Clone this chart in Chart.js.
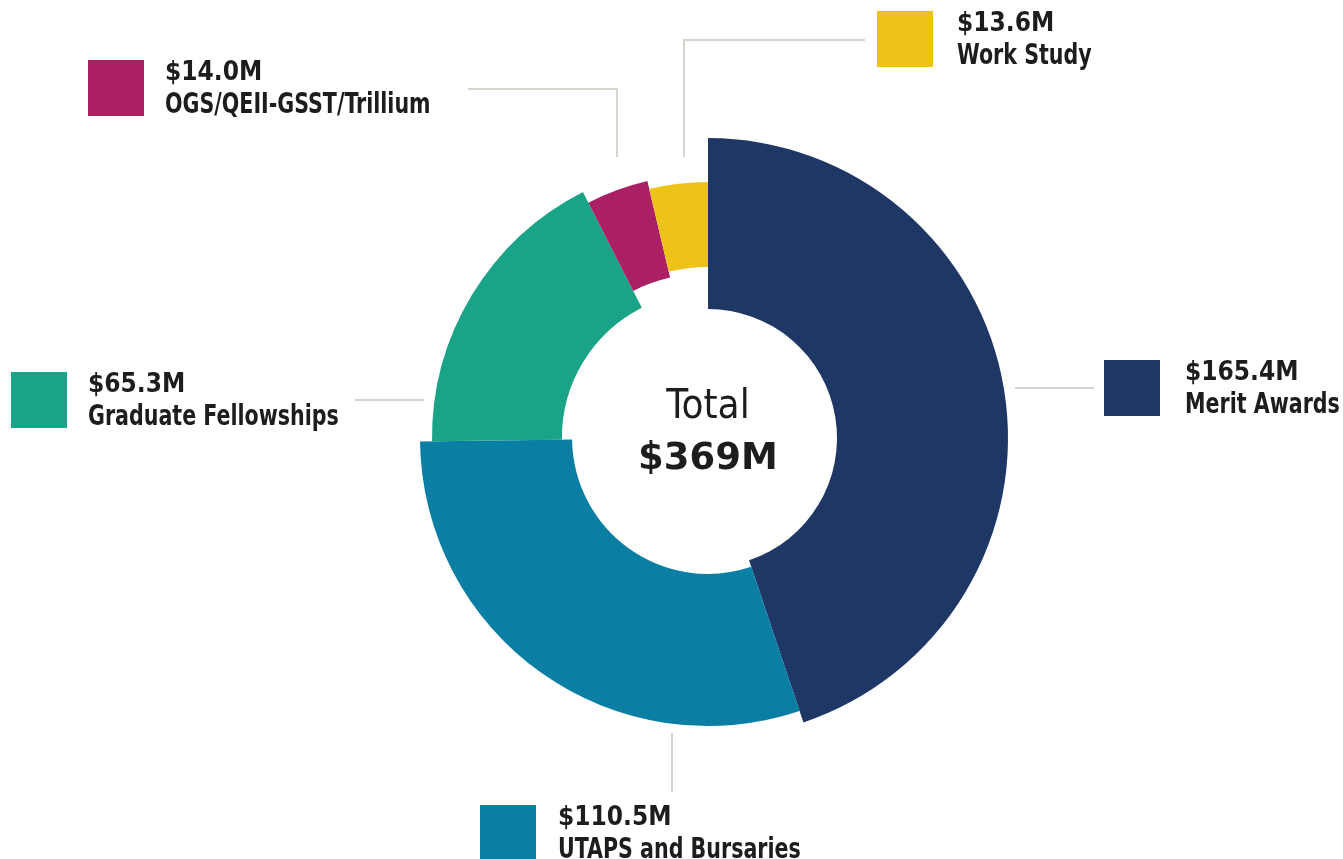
<!DOCTYPE html>
<html lang="en">
<head>
  <meta charset="UTF-8">
  <title>Student Aid Total</title>
  <style>
    html, body { margin: 0; padding: 0; background: #ffffff; }
    #chartWrap { width: 1343px; height: 859px; }
  </style>
</head>
<body>
  <div id="chartWrap">
    <canvas id="myChart" width="1343" height="859"></canvas>
  </div>

  <script src="https://cdn.jsdelivr.net/npm/chart.js"></script>
  <script>
    // Chart data
    var categories = ['Merit Awards', 'UTAPS and Bursaries', 'Graduate Fellowships', 'OGS/QEII-GSST/Trillium', 'Work Study'];
    var amounts = [165.4, 110.5, 65.3, 14.0, 13.6]; // $ millions
    var totalLabel = 'Total';

    // Styles
    var colors = ['#1e3765', '#0b7ea3', '#1aa487', '#ab1f65', '#eec318'];
    // each slice has its own ring (fraction of the base outer radius)
    var outerFrac = [1.0, 0.96, 0.92, 0.88, 0.853];
    var innerFrac = [0.43, 0.453, 0.487, 0.55, 0.57];

    var textColor = '#1f1c1d';
    var lineColor = '#d6d5cd';
    var nameFont = 'bold 29px "DejaVu Sans Condensed", "DejaVu Sans", sans-serif';
    var nameSqueeze = 0.79; // no narrow font installed, so squeeze horizontally
    var valueFont = 'bold 26px "DejaVu Sans Condensed", "DejaVu Sans", sans-serif';

    // Callout layout: swatch box, text x and leader line points for each slice
    var callouts = [
      { box: [1104, 360], tx: 1185, line: [[1015, 388], [1094, 388]] },
      { box: [480, 805], tx: 558, line: [[672, 733], [672, 792]] },
      { box: [11, 372], tx: 88, line: [[355, 400], [424, 400]] },
      { box: [88, 60], tx: 165, line: [[468, 89], [617, 89], [617, 157]] },
      { box: [877, 11], tx: 957, line: [[865, 40], [684, 40], [684, 157]] }
    ];

    function money(v) {
      return '$' + v.toFixed(1) + 'M';
    }

    // Resize each arc to its own ring
    var ringPlugin = {
      id: 'rings',
      beforeDatasetsDraw: function (chart) {
        var meta = chart.getDatasetMeta(0);
        var base = meta.controller.outerRadius;
        meta.data.forEach(function (arc, i) {
          arc.outerRadius = base * outerFrac[i];
          arc.innerRadius = base * innerFrac[i];
        });
      }
    };

    // Callouts and centre total
    var labelPlugin = {
      id: 'callouts',
      afterDraw: function (chart) {
        var ctx = chart.ctx;
        var meta = chart.getDatasetMeta(0);
        var cx = meta.data[0].x;
        var cy = meta.data[0].y;
        ctx.save();

        callouts.forEach(function (c, i) {
          // leader line
          ctx.strokeStyle = lineColor;
          ctx.lineWidth = 2;
          ctx.beginPath();
          c.line.forEach(function (p, j) {
            if (j === 0) ctx.moveTo(p[0], p[1]);
            else ctx.lineTo(p[0], p[1]);
          });
          ctx.stroke();

          // swatch
          ctx.fillStyle = colors[i];
          ctx.fillRect(c.box[0], c.box[1], 56, 56);

          // value + name
          ctx.fillStyle = textColor;
          ctx.textAlign = 'left';
          ctx.textBaseline = 'alphabetic';
          ctx.font = valueFont;
          ctx.fillText(money(amounts[i]), c.tx, c.box[1] + 20);
          ctx.font = nameFont;
          var w = ctx.measureText(categories[i]).width;
          ctx.fillText(categories[i], c.tx, c.box[1] + 53, w * nameSqueeze);
        });

        // centre text
        var total = amounts.reduce(function (a, b) { return a + b; }, 0);
        ctx.textAlign = 'center';
        ctx.fillStyle = textColor;
        ctx.font = '40px "DejaVu Sans Condensed", "DejaVu Sans", sans-serif';
        ctx.fillText(totalLabel, cx, cy - 20);
        ctx.font = 'bold 37px "DejaVu Sans", sans-serif';
        ctx.fillText('$' + Math.round(total) + 'M', cx, cy + 31);

        ctx.restore();
      }
    };

    var ctx = document.getElementById('myChart').getContext('2d');
    var myChart = new Chart(ctx, {
      type: 'doughnut',
      data: {
        labels: categories,
        datasets: [{
          data: amounts,
          backgroundColor: colors,
          borderWidth: 0
        }]
      },
      options: {
        responsive: false,
        animation: false,
        events: [],
        rotation: 0,
        cutout: '43%',
        layout: {
          padding: { top: 138, bottom: 121, left: 400, right: 327 }
        },
        plugins: {
          legend: { display: false },
          tooltip: { enabled: false }
        }
      },
      plugins: [ringPlugin, labelPlugin]
    });
  </script>
</body>
</html>
